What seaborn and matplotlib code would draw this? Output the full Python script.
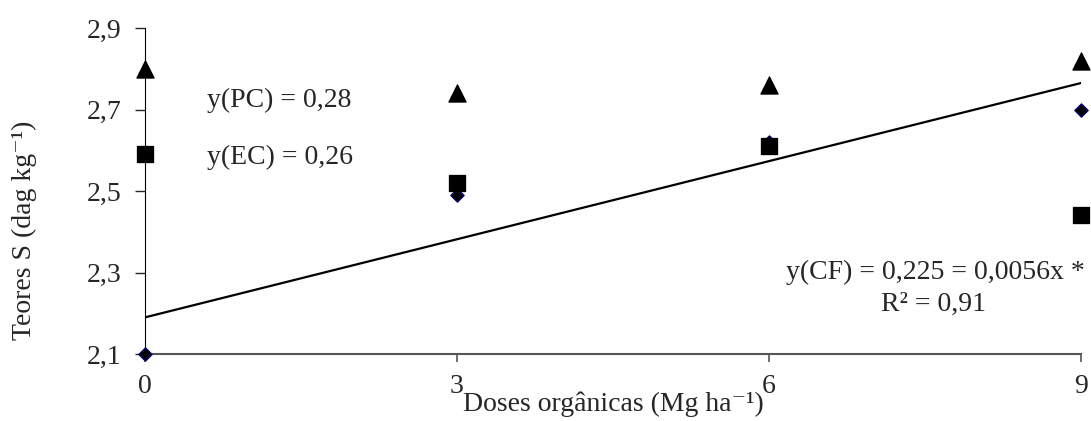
import matplotlib
matplotlib.use("Agg")
import matplotlib.pyplot as plt
import seaborn as sns
import numpy as np
import pandas as pd

# Data
doses = [0, 3, 6, 9]
teor_pc = [2.80, 2.74, 2.76, 2.82]   # triangles
teor_ec = [2.59, 2.52, 2.61, 2.44]   # squares
teor_cf = [2.10, 2.49, 2.62, 2.70]   # diamonds
fit_x = [0, 9]
fit_y = [2.19, 2.765]

xticks = [0, 3, 6, 9]
yticks = [2.1, 2.3, 2.5, 2.7, 2.9]
ytick_labels = ["2,1", "2,3", "2,5", "2,7", "2,9"]

sns.set_style("ticks")
plt.rcParams['font.family'] = ['Liberation Serif', 'DejaVu Serif']

fig = plt.figure(figsize=(10.91, 4.21), dpi=100)
ax = fig.add_axes([0.1329, 0.159, 0.8579, 0.7745])

df = pd.DataFrame({"dose": doses, "PC": teor_pc, "EC": teor_ec, "CF": teor_cf})
fit = pd.DataFrame({"x": fit_x, "y": fit_y})

sns.lineplot(data=fit, x="x", y="y", color="black", linewidth=1.6, ax=ax, zorder=2)
sns.scatterplot(data=df, x="dose", y="CF", marker="D", s=45, color="black",
                edgecolor="#000066", linewidth=1, ax=ax, zorder=3)
sns.scatterplot(data=df, x="dose", y="EC", marker="s", s=140, color="black",
                edgecolor="black", ax=ax, zorder=4)
sns.scatterplot(data=df, x="dose", y="PC", marker="^", s=150, color="black",
                edgecolor="black", ax=ax, zorder=4)

ax.set_xlim(0, 9)
ax.set_ylim(2.1, 2.9)
ax.set_xticks(xticks)
ax.set_xticklabels([str(v) for v in xticks], fontsize=20)
ax.set_yticks(yticks)
ax.set_yticklabels(ytick_labels, fontsize=20)
ax.tick_params(axis='y', direction='out', length=7, width=1, pad=10)
ax.tick_params(axis='x', direction='out', length=6, width=1.2, pad=8, color="#555555")

sns.despine(ax=ax)
ax.spines['left'].set_color("black")
ax.spines['bottom'].set_color("#555555")
ax.spines['bottom'].set_linewidth(1.5)
for s in ax.spines.values():
    s.set_clip_on(False)
for c in ax.collections:
    c.set_clip_on(False)

ax.set_xlabel("Doses orgânicas (Mg ha⁻¹)", fontsize=20, labelpad=-5)
ax.set_ylabel("Teores S (dag kg⁻¹)", fontsize=20)
ax.yaxis.set_label_coords(-0.115, 0.38)

ax.text(0.6, 2.722, "y(PC) = 0,28", fontsize=20, va="center", ha="left")
ax.text(0.6, 2.583, "y(EC) = 0,26", fontsize=20, va="center", ha="left")
ax.text(9.04, 2.30, "y(CF) = 0,225 = 0,0056x *", fontsize=20, va="center", ha="right")
ax.text(7.58, 2.222, "R² = 0,91", fontsize=20, va="center", ha="center")

fig.savefig("out.png", dpi=100)
